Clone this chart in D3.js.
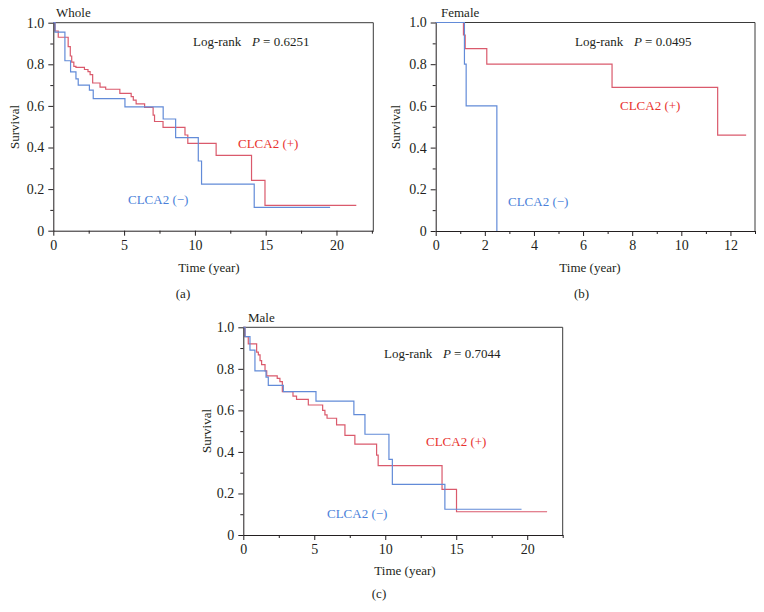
<!DOCTYPE html>
<html><head><meta charset="utf-8">
<script src="https://cdn.jsdelivr.net/npm/d3@7"></script>
<style>body{margin:0;background:#fff}svg{display:block}text{font-family:"Liberation Serif","Times New Roman",serif;fill:#231f20}</style>
</head><body><svg id="c" width="764" height="612"></svg>
<script>
// ---- data ----
const wholePosT = [0, 0.12, 0.35, 1.05, 1.2, 1.3, 1.45, 1.6, 2.2, 2.45, 2.6, 2.78, 3.3, 3.7, 4.7, 5.5, 5.65, 5.85, 6.45, 7.05, 7.15, 7.75, 9.3, 9.5, 11.5, 14.0, 14.95, 21.4];
const wholePosS = [1.0, 0.96, 0.93, 0.885, 0.84, 0.81, 0.79, 0.785, 0.775, 0.765, 0.75, 0.71, 0.69, 0.68, 0.66, 0.645, 0.628, 0.61, 0.593, 0.556, 0.525, 0.497, 0.46, 0.42, 0.362, 0.242, 0.122, 0.122];
const wholeNegT = [0, 0.12, 0.82, 1.22, 1.6, 1.76, 2.55, 2.82, 5.06, 7.76, 8.64, 10.24, 10.47, 14.19, 19.55];
const wholeNegS = [1.0, 0.955, 0.817, 0.764, 0.73, 0.70, 0.676, 0.635, 0.595, 0.537, 0.447, 0.335, 0.224, 0.112, 0.112];
const femalePosT = [0, 1.13, 1.2, 2.08, 7.18, 11.48, 12.64];
const femalePosS = [1, 0.94, 0.875, 0.80, 0.689, 0.46, 0.46];
const femaleNegT = [0, 1.17, 1.24, 2.49];
const femaleNegS = [1, 0.8, 0.6, 0];
const malePosT = [0, 0.12, 0.35, 0.94, 1.06, 1.18, 1.29, 1.53, 1.65, 2.39, 2.58, 2.75, 3.5, 3.75, 4.58, 5.59, 5.75, 5.9, 6.57, 7.16, 7.86, 9.39, 9.5, 14.0, 15.02, 21.4];
const malePosS = [1, 0.955, 0.92, 0.88, 0.867, 0.84, 0.82, 0.79, 0.766, 0.754, 0.738, 0.69, 0.669, 0.653, 0.626, 0.6, 0.578, 0.562, 0.53, 0.48, 0.438, 0.385, 0.334, 0.22, 0.112, 0.112];
const maleNegT = [0, 0.12, 0.47, 0.82, 1.6, 1.76, 2.82, 5.12, 7.79, 8.57, 10.26, 10.5, 14.2, 19.6];
const maleNegS = [1, 0.955, 0.89, 0.79, 0.76, 0.72, 0.69, 0.645, 0.58, 0.485, 0.364, 0.244, 0.124, 0.124];
const yTicks = [0, 0.2, 0.4, 0.6, 0.8, 1.0];
const yTickLabels = ["0", "0.2", "0.4", "0.6", "0.8", "1.0"];
const yMinor = [0.1, 0.3, 0.5, 0.7, 0.9];
const titles = ["Whole", "Female", "Male"];
const pValues = ["0.6251", "0.0495", "0.7044"];
const panelLetters = ["(a)", "(b)", "(c)"];
const xMax = [22.6, 13, 22.5];
const xMajor = [[0,5,10,15,20],[0,2,4,6,8,10,12],[0,5,10,15,20]];
const xMinor = [[2.5,7.5,12.5,17.5,22.5],[1,3,5,7,9,11,13],[2.5,7.5,12.5,17.5,22.5]];
const posLabel = "CLCA2 (+)", negLabel = "CLCA2 (\u2212)";

// ---- layout ----
const RED_LINE = "#da5a6c", BLUE_LINE = "#628bd8", RED_TXT = "#e8322e", BLUE_TXT = "#4a7fd9";
const FS = "13px";
const panels = [
  {l:53.3, r:373.3, t:22.7, b:230.7, pos:[wholePosT,wholePosS], neg:[wholeNegT,wholeNegS],
   title:[56,17], p:[193,46], posL:[238,148], negL:[128,204], yl:[19,127], xl:[209,272], let:[183,298]},
  {l:435.7, r:755, t:22.5, b:231, pos:[femalePosT,femalePosS], neg:[femaleNegT,femaleNegS],
   title:[441,17], p:[575,46], posL:[620,110], negL:[508,206], yl:[400,127], xl:[590,272], let:[581.5,298]},
  {l:243.3, r:562.7, t:327.3, b:535, pos:[malePosT,malePosS], neg:[maleNegT,maleNegS],
   title:[248,322], p:[384,358], posL:[426,446], negL:[327,518], yl:[211,431], xl:[405,575], let:[379,598]}
];
const svg = d3.select("#c");
svg.append("rect").attr("width",764).attr("height",612).attr("fill","#fff");

panels.forEach((P, i) => {
  const g = svg.append("g");
  const x = d3.scaleLinear().domain([0, xMax[i]]).range([P.l, P.r]);
  const y = d3.scaleLinear().domain([0, 1]).range([P.b, P.t]);
  // frame
  g.append("path").attr("d", `M${P.l},${P.t}H${P.r}V${P.b}`).attr("fill","none").attr("stroke","#3a3a3a").attr("stroke-width",1);
  // curves
  const line = d3.line().x(d=>x(d[0])).y(d=>y(d[1])).curve(d3.curveStepAfter);
  [[P.pos, RED_LINE],[P.neg, BLUE_LINE]].forEach(([ser,col]) => {
    const pts = ser[0].map((t,k)=>[t, ser[1][k]]);
    g.append("path").attr("d", line(pts)).attr("fill","none").attr("stroke",col).attr("stroke-width",1.2);
  });
  // axes
  g.append("g").attr("transform",`translate(0,${P.b})`)
    .call(d3.axisBottom(x).tickValues(xMajor[i]).tickSizeInner(5).tickSizeOuter(0).tickPadding(4).tickFormat(d3.format("d")));
  g.append("g").attr("transform",`translate(0,${P.b})`)
    .call(d3.axisBottom(x).tickValues(xMinor[i]).tickSize(3).tickFormat(""))
    .call(s => s.select(".domain").remove());
  g.append("g").attr("transform",`translate(${P.l},0)`)
    .call(d3.axisLeft(y).tickValues(yTicks).tickSizeInner(5).tickSizeOuter(0).tickPadding(4).tickFormat((d,k)=>yTickLabels[k]));
  g.append("g").attr("transform",`translate(${P.l},0)`)
    .call(d3.axisLeft(y).tickValues(yMinor).tickSize(3).tickFormat(""))
    .call(s => s.select(".domain").remove());
  g.selectAll(".tick line, .domain").attr("stroke","#231f20");
  g.selectAll(".tick text").style("font-family",'"Liberation Serif",serif').style("font-size","14px").attr("fill","#231f20");
  // texts
  g.append("text").attr("x",P.title[0]).attr("y",P.title[1]).style("font-size",FS).text(titles[i]);
  const pt = g.append("text").attr("x",P.p[0]).attr("y",P.p[1]).style("font-size",FS);
  pt.append("tspan").text("Log-rank");
  pt.append("tspan").attr("dx","10.5").style("font-style","italic").text("P");
  pt.append("tspan").text(" = " + pValues[i]);
  g.append("text").attr("x",P.posL[0]).attr("y",P.posL[1]).style("font-size",FS).style("fill",RED_TXT).text(posLabel);
  g.append("text").attr("x",P.negL[0]).attr("y",P.negL[1]).style("font-size",FS).style("fill",BLUE_TXT).text(negLabel);
  g.append("text").attr("transform",`translate(${P.yl[0]},${P.yl[1]}) rotate(-90)`).attr("text-anchor","middle").style("font-size",FS).text("Survival");
  g.append("text").attr("x",P.xl[0]).attr("y",P.xl[1]).attr("text-anchor","middle").style("font-size",FS).text("Time (year)");
  g.append("text").attr("x",P.let[0]).attr("y",P.let[1]).attr("text-anchor","middle").style("font-size",FS).text(panelLetters[i]);
});
</script></body></html>
